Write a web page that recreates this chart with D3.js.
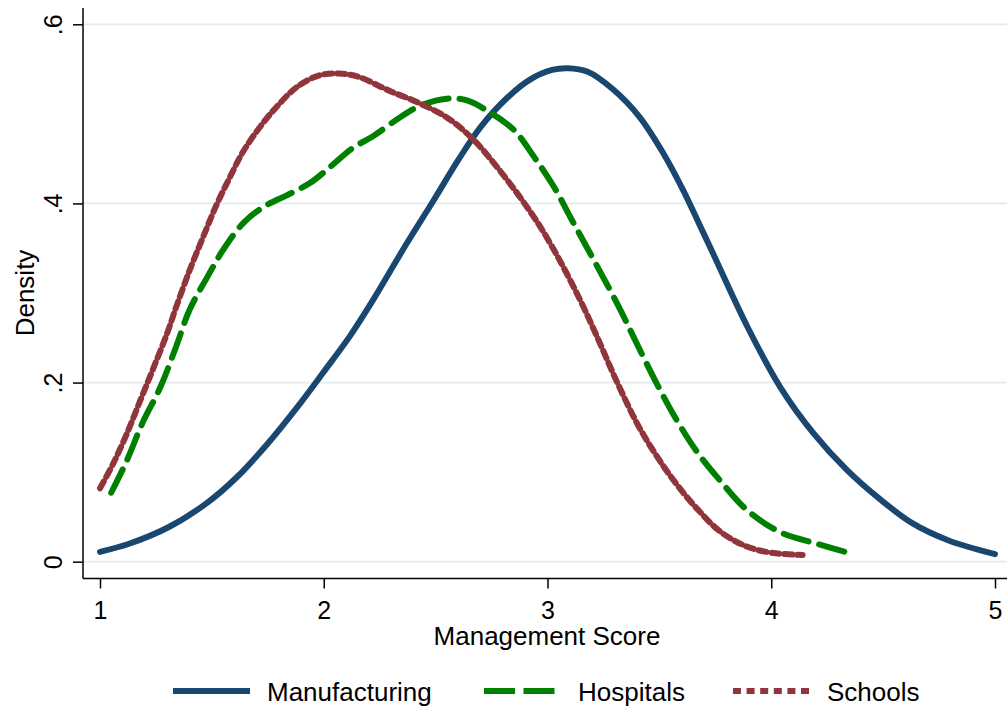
<!DOCTYPE html>
<html>
<head>
<meta charset="utf-8">
<script src="https://cdn.jsdelivr.net/npm/d3@7"></script>
<style>
  html, body { margin: 0; padding: 0; background: #ffffff; }
  svg { display: block; }
  text { font-family: "Liberation Sans", Arial, Helvetica, sans-serif; fill: #000; }
</style>
</head>
<body>
<svg id="chart" width="1007" height="710"></svg>
<script>
// ---- data ----
const seriesNames = ["Manufacturing", "Hospitals", "Schools"];

const manufacturingScore = [1.00, 1.13, 1.31, 1.48, 1.61, 1.75, 1.88, 2.00, 2.12, 2.22, 2.37, 2.49, 2.60, 2.70, 2.82, 2.92, 3.02, 3.09, 3.18, 3.29, 3.41, 3.52, 3.61, 3.68, 3.74, 3.89, 4.04, 4.19, 4.34, 4.49, 4.63, 4.79, 5.00];
const manufacturingDensity = [0.011, 0.020, 0.039, 0.066, 0.094, 0.132, 0.172, 0.212, 0.253, 0.292, 0.355, 0.403, 0.448, 0.485, 0.518, 0.538, 0.549, 0.551, 0.547, 0.528, 0.497, 0.455, 0.413, 0.376, 0.344, 0.264, 0.195, 0.143, 0.102, 0.069, 0.043, 0.024, 0.0085];

const hospitalsScore = [1.05, 1.12, 1.19, 1.27, 1.34, 1.40, 1.48, 1.55, 1.64, 1.73, 1.85, 1.94, 2.03, 2.13, 2.22, 2.34, 2.43, 2.55, 2.64, 2.74, 2.85, 2.94, 3.03, 3.11, 3.20, 3.32, 3.40, 3.49, 3.58, 3.67, 3.77, 3.89, 4.04, 4.19, 4.35];
const hospitalsDensity = [0.077, 0.113, 0.155, 0.195, 0.240, 0.281, 0.318, 0.348, 0.378, 0.396, 0.411, 0.423, 0.441, 0.462, 0.475, 0.496, 0.509, 0.517, 0.515, 0.502, 0.482, 0.452, 0.418, 0.381, 0.340, 0.284, 0.243, 0.198, 0.157, 0.122, 0.091, 0.058, 0.033, 0.021, 0.0097];

const schoolsScore = [1.00, 1.06, 1.12, 1.18, 1.24, 1.30, 1.34, 1.40, 1.46, 1.52, 1.58, 1.64, 1.72, 1.79, 1.88, 1.98, 2.07, 2.16, 2.24, 2.30, 2.40, 2.55, 2.67, 2.77, 2.88, 2.97, 3.06, 3.15, 3.22, 3.31, 3.41, 3.52, 3.61, 3.68, 3.77, 3.89, 4.01, 4.14];
const schoolsDensity = [0.082, 0.110, 0.143, 0.180, 0.217, 0.255, 0.284, 0.325, 0.362, 0.398, 0.429, 0.458, 0.487, 0.508, 0.530, 0.543, 0.545, 0.541, 0.532, 0.525, 0.515, 0.496, 0.471, 0.442, 0.406, 0.373, 0.334, 0.290, 0.252, 0.201, 0.150, 0.106, 0.076, 0.056, 0.034, 0.017, 0.0097, 0.0075];

const xTicks = [1, 2, 3, 4, 5];
const xTickLabels = ["1", "2", "3", "4", "5"];
const yTicks = [0, 0.2, 0.4, 0.6];
const yTickLabels = ["0", ".2", ".4", ".6"];
const xTitle = "Management Score";
const yTitle = "Density";

// ---- layout & styles ----
const colors = ["#1a476f", "#008000", "#90353b"];
const plotDash = [null, "26 11", "8 5"];
const legendDash = [null, "31 8.5", "8 5.6"];
const lineW = 6;
const fontMain = 26;
const fontTick = 25;

const svg = d3.select("#chart");
const x = d3.scaleLinear().domain([1, 5]).range([100, 995]);
const y = d3.scaleLinear().domain([0, 0.6]).range([561.7, 24.3]);
const axisLeftX = 83, axisBottomY = 578.5, plotTop = 8, plotRight = 1007;

// gridlines
svg.append("g").selectAll("line").data(yTicks).join("line")
  .attr("x1", axisLeftX).attr("x2", plotRight)
  .attr("y1", d => y(d)).attr("y2", d => y(d))
  .attr("stroke", "#e2ebee").attr("stroke-width", 1.8);

// series
const series = [
  { name: seriesNames[0], xs: manufacturingScore, ys: manufacturingDensity },
  { name: seriesNames[1], xs: hospitalsScore, ys: hospitalsDensity },
  { name: seriesNames[2], xs: schoolsScore, ys: schoolsDensity }
];
const line = d3.line().x(d => x(d[0])).y(d => y(d[1])).curve(d3.curveCatmullRom.alpha(0.5));

series.forEach((s, i) => {
  const pts = s.xs.map((v, k) => [v, s.ys[k]]);
  svg.append("path").datum(pts)
    .attr("d", line)
    .attr("fill", "none")
    .attr("stroke", colors[i])
    .attr("stroke-width", lineW)
    .attr("stroke-linecap", "round")
    .attr("stroke-linejoin", "round")
    .attr("stroke-dasharray", plotDash[i]);
});

// y axis
const yAxis = d3.axisLeft(y).tickValues(yTicks).tickFormat((d, i) => yTickLabels[i]).tickSize(10).tickPadding(0);
const gy = svg.append("g").attr("transform", `translate(${axisLeftX},0)`).call(yAxis);
gy.select(".domain").remove();
gy.selectAll(".tick line").attr("stroke", "#000").attr("stroke-width", 1.5);
gy.selectAll(".tick text")
  .attr("font-size", fontTick)
  .attr("text-anchor", "middle")
  .attr("transform", "rotate(-90)")
  .attr("x", 0).attr("y", -21).attr("dy", 0);
svg.append("line").attr("x1", axisLeftX).attr("x2", axisLeftX)
  .attr("y1", plotTop).attr("y2", axisBottomY)
  .attr("stroke", "#000").attr("stroke-width", 1.5);

// x axis
const xAxis = d3.axisBottom(x).tickValues(xTicks).tickFormat((d, i) => xTickLabels[i]).tickSize(10).tickPadding(0);
const gx = svg.append("g").attr("transform", `translate(0,${axisBottomY})`).call(xAxis);
gx.select(".domain").remove();
gx.selectAll(".tick line").attr("stroke", "#000").attr("stroke-width", 1.5);
gx.selectAll(".tick text").attr("font-size", fontTick).attr("y", 40).attr("dy", 0);
svg.append("line").attr("x1", axisLeftX).attr("x2", plotRight)
  .attr("y1", axisBottomY).attr("y2", axisBottomY)
  .attr("stroke", "#000").attr("stroke-width", 1.5);

// axis titles
svg.append("text").attr("x", 547).attr("y", 645).attr("text-anchor", "middle")
  .attr("font-size", fontMain).text(xTitle);
svg.append("text").attr("transform", "translate(34,293) rotate(-90)").attr("text-anchor", "middle")
  .attr("font-size", fontMain).text(yTitle);

// legend
const legendKeyX = [173, 484, 733];
const legendKeyLen = 77;
const legendY = 691;
series.forEach((s, i) => {
  svg.append("line")
    .attr("x1", legendKeyX[i]).attr("x2", legendKeyX[i] + legendKeyLen)
    .attr("y1", legendY).attr("y2", legendY)
    .attr("stroke", colors[i]).attr("stroke-width", lineW)
    .attr("stroke-dasharray", legendDash[i]);
  svg.append("text")
    .attr("x", legendKeyX[i] + legendKeyLen + 17)
    .attr("y", legendY + 10)
    .attr("font-size", fontMain)
    .text(s.name);
});
</script>
</body>
</html>
